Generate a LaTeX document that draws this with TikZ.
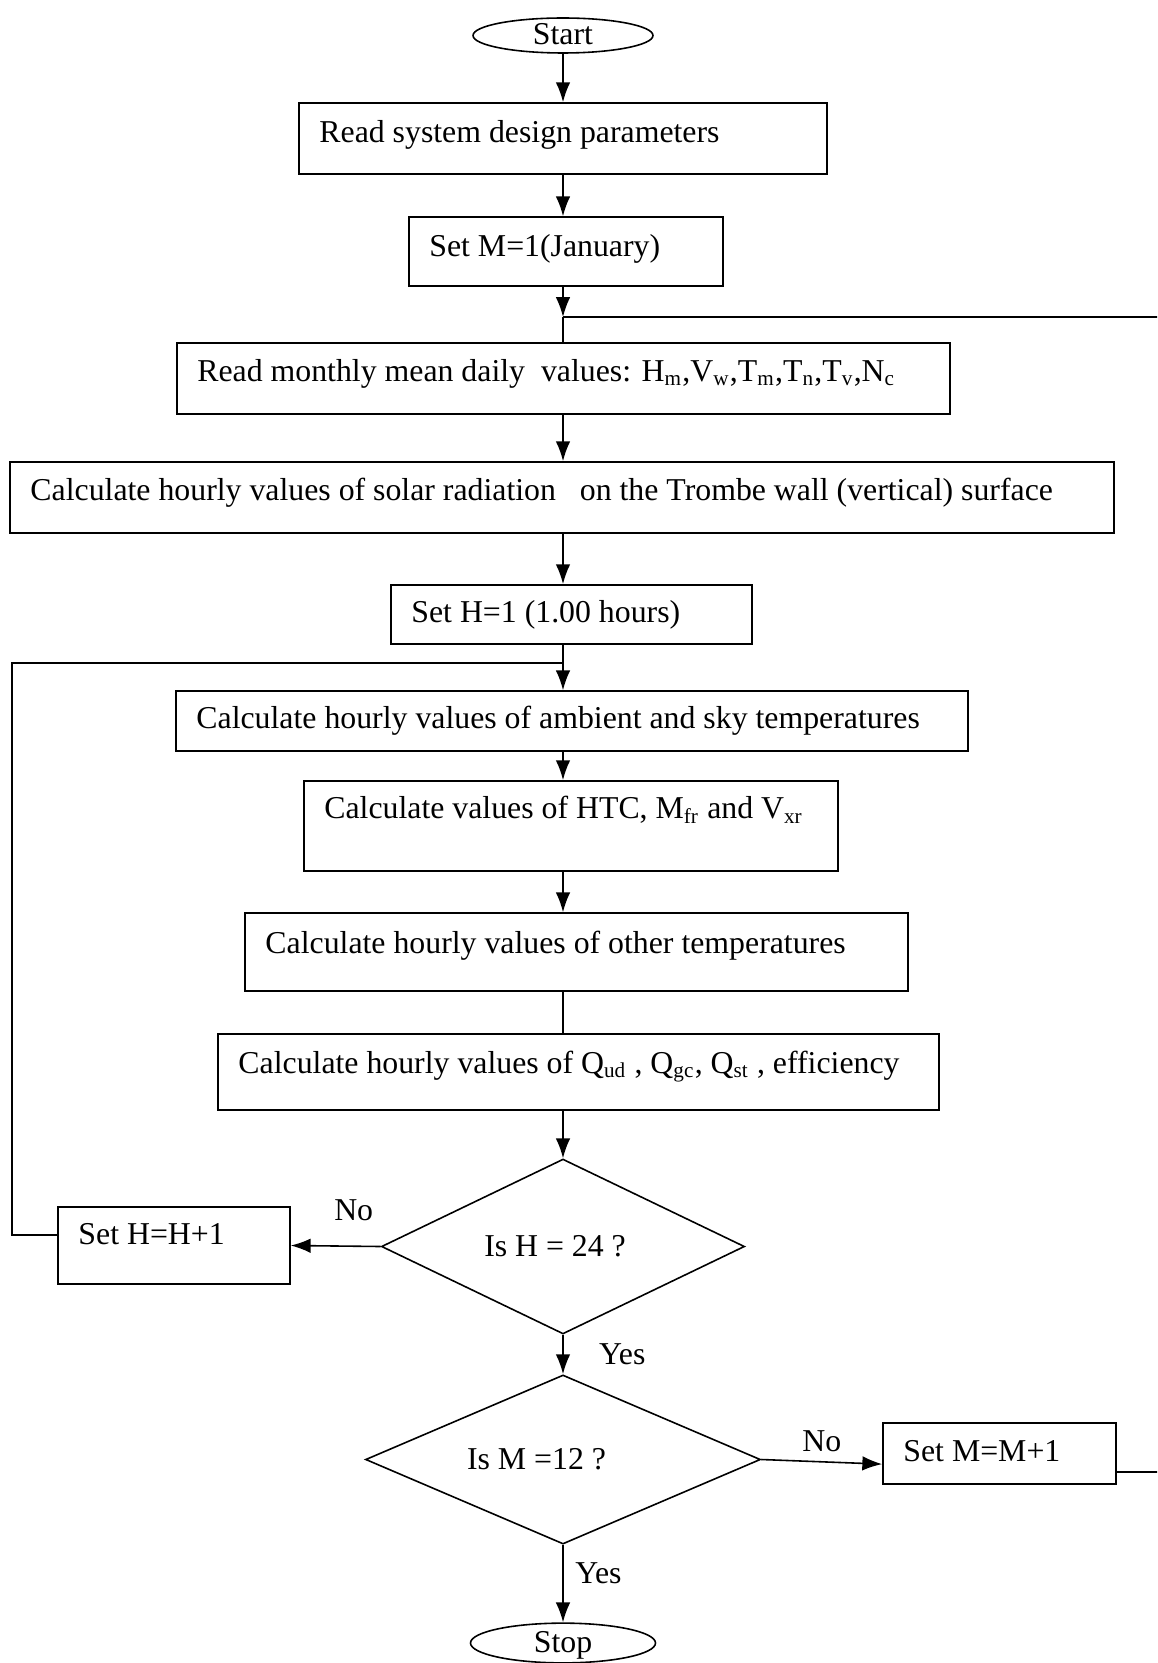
\documentclass[tikz,border=0pt]{standalone}
\usepackage{fontspec}
\setmainfont{Liberation Serif}
\usetikzlibrary{shapes.geometric,arrows.meta}

\begin{document}
\begin{tikzpicture}[
  x=0.3773pt, y=-0.3773pt,
  line width=0.6pt,
  every node/.style={font=\fontsize{12pt}{14pt}\selectfont},
  blk/.style={draw, align=flush left, inner xsep=7.7pt, inner ysep=2pt, text height=9pt, text depth=3pt},
  term/.style={draw, ellipse, inner sep=0pt, text height=7pt, text depth=0pt},
  test/.style={draw, diamond, inner sep=0pt, aspect=2},
  arr/.style={-{Latex[length=7.5pt,width=5.5pt]}}
  ]

\useasboundingbox (0,0) rectangle (1157,1663);
\clip (0,0) rectangle (1157,1663);

\node[term, minimum width=67.9pt, minimum height=13.2pt] (start) at (563,35.5) {Start};
\node[blk, text width=183.8pt, minimum height=26.8pt, text depth=6pt] (design) at (563,138.5) {Read system design parameters};
\node[blk, text width=103.1pt, minimum height=26pt, text depth=5.6pt] (setm) at (566,251.5) {Set M=1(January)};
\node[blk, text width=276.3pt, minimum height=26.8pt, text depth=7pt] (monthly) at (563.5,378.5)
  {Read monthly mean daily\ \ values: H\textsubscript{m},V\textsubscript{w},T\textsubscript{m},T\textsubscript{n},T\textsubscript{v},N\textsubscript{c}};
\node[blk, text width=401.1pt, minimum height=26.8pt, text depth=6.4pt] (solar) at (562,497.5)
  {Calculate hourly values of solar radiation\ \ \ on the Trombe wall (vertical) surface};
\node[blk, text width=120.8pt, minimum height=22.3pt] (seth) at (571.5,614.5) {Set H=1 (1.00 hours)};
\node[blk, text width=283.4pt, minimum height=22.6pt] (ambient) at (572,721) {Calculate hourly values of ambient and sky temperatures};
\node[blk, text width=186.1pt, minimum height=34pt, text depth=14.4pt] (htc) at (571,826) {Calculate values of HTC, M\textsubscript{fr} and V\textsubscript{xr}};
\node[blk, text width=234.7pt, minimum height=29.4pt, text depth=8.2pt] (other) at (576.5,952) {Calculate hourly values of other temperatures};
\node[blk, text width=256.6pt, minimum height=28.7pt, text depth=8.2pt] (heat) at (578.5,1072)
  {Calculate hourly values of Q\textsubscript{ud} , Q\textsubscript{gc}, Q\textsubscript{st} , efficiency};
\node[test, minimum width=137pt, minimum height=66pt] (ish) at (563,1246.5) {Is H = 24 ?\kern6pt};
\node[blk, text width=72.1pt, minimum height=29.1pt, text depth=9.8pt] (sethh) at (174,1245.5) {Set H=H+1};
\node[test, minimum width=149pt, minimum height=63.8pt] (ism) at (563,1459.5) {Is M =12 ?\kern20pt};
\node[blk, text width=72.5pt, minimum height=23pt] (setmm) at (999.5,1453.5) {Set M=M+1};
\node[term, minimum width=69.8pt, minimum height=15pt] (stop) at (563,1643) {Stop};

\coordinate (jm) at (563,317);
\coordinate (jh) at (563,663);

\draw[arr] (start) -- (design.north -| start);
\draw[arr] (design.south -| start) -- (setm.north -| start);
\draw[arr] (setm.south -| start) -- (jm);
\draw (jm) -- (monthly.north -| start);
\draw[arr] (monthly.south -| start) -- (solar.north -| start);
\draw[arr] (solar.south -| start) -- (seth.north -| start);
\draw (seth.south -| start) -- (jh);
\draw[arr] (jh) -- (ambient.north -| start);
\draw[arr] (ambient.south -| start) -- (htc.north -| start);
\draw[arr] (htc.south -| start) -- (other.north -| start);
\draw (other.south -| start) -- (heat.north -| start);
\draw[arr] (heat.south -| start) -- (ish);
\draw[arr] (ish) -- node[right=10pt] {Yes} (ism);
\draw[arr] (ish.west) -- node[above=6pt, pos=0.3] {No} (sethh.east);
\draw ([yshift=4pt]sethh.west) -- ++(-45,0) |- (jh);
\draw[arr] (ism.east) -- node[above] {No} ([yshift=-4pt]setmm.west);
\draw ([yshift=-7pt]setmm.east) -- ++(60,0) |- (jm);
\draw[arr] (ism) -- node[right=1pt, pos=0.37] {Yes} (stop);

\end{tikzpicture}
\end{document}
